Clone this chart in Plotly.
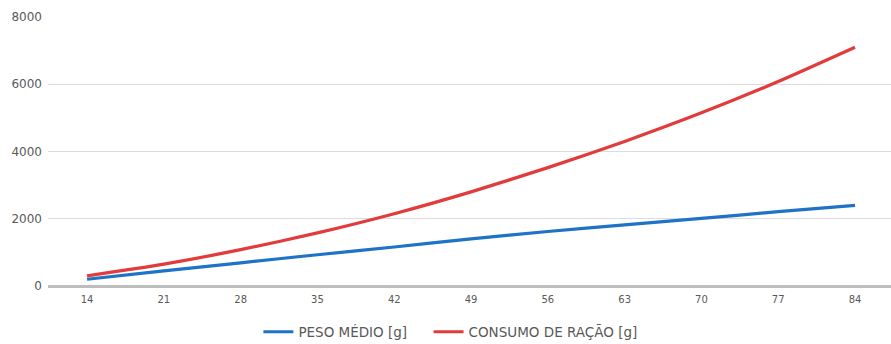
import plotly.graph_objects as go

# Idade (dias)
dias = [14, 21, 28, 35, 42, 49, 56, 63, 70, 77, 84]

# Peso médio acumulado (g)
peso_medio = [200, 450, 690, 930, 1160, 1400, 1620, 1820, 2010, 2210, 2400]

# Consumo de ração acumulado (g)
consumo_racao = [300, 650, 1080, 1580, 2150, 2800, 3520, 4300, 5150, 6080, 7100]

y_ticks = [0, 2000, 4000, 6000, 8000]

FONT = "DejaVu Sans, Verdana, sans-serif"
TXT = "#595959"

fig = go.Figure()
fig.add_trace(go.Scatter(
    x=dias, y=peso_medio, mode="lines", name="PESO MÉDIO [g]",
    line=dict(color="#1f73c6", width=3.2, shape="spline", smoothing=0.6),
    legend="legend",
))
fig.add_trace(go.Scatter(
    x=dias, y=consumo_racao, mode="lines", name="CONSUMO DE RAÇÃO [g]",
    line=dict(color="#e23b3b", width=3.2, shape="spline", smoothing=0.6),
    legend="legend2",
))

legend_style = dict(
    orientation="h", xref="container", yref="container",
    xanchor="left", y=0.035, yanchor="middle",
    font=dict(family=FONT, size=13.5, color=TXT),
    itemwidth=30, bgcolor="rgba(0,0,0,0)",
)

fig.update_layout(
    width=891, height=344,
    margin=dict(l=48, r=0, t=17, b=58, autoexpand=False),
    paper_bgcolor="white", plot_bgcolor="white",
    font=dict(family=FONT, size=11, color=TXT),
    showlegend=True,
    legend=dict(x=0.29, **legend_style),
    legend2=dict(x=0.481, **legend_style),
    xaxis=dict(
        range=[10.44, 87.28],
        tickmode="array", tickvals=dias, ticktext=[str(d) for d in dias],
        showgrid=False, zeroline=False, showline=False,
        ticks="", ticklabelstandoff=6,
        tickfont=dict(family=FONT, size=10, color=TXT),
    ),
    yaxis=dict(
        range=[0, 8000],
        tickmode="array", tickvals=y_ticks, ticktext=[str(v) for v in y_ticks],
        showgrid=True, gridcolor="#dcdcdc", gridwidth=1,
        zeroline=True, zerolinecolor="#bdbdbd", zerolinewidth=3,
        showline=False, ticks="", ticklabelstandoff=5,
        tickfont=dict(family=FONT, size=12, color=TXT),
    ),
)

fig.write_html("out.html")
